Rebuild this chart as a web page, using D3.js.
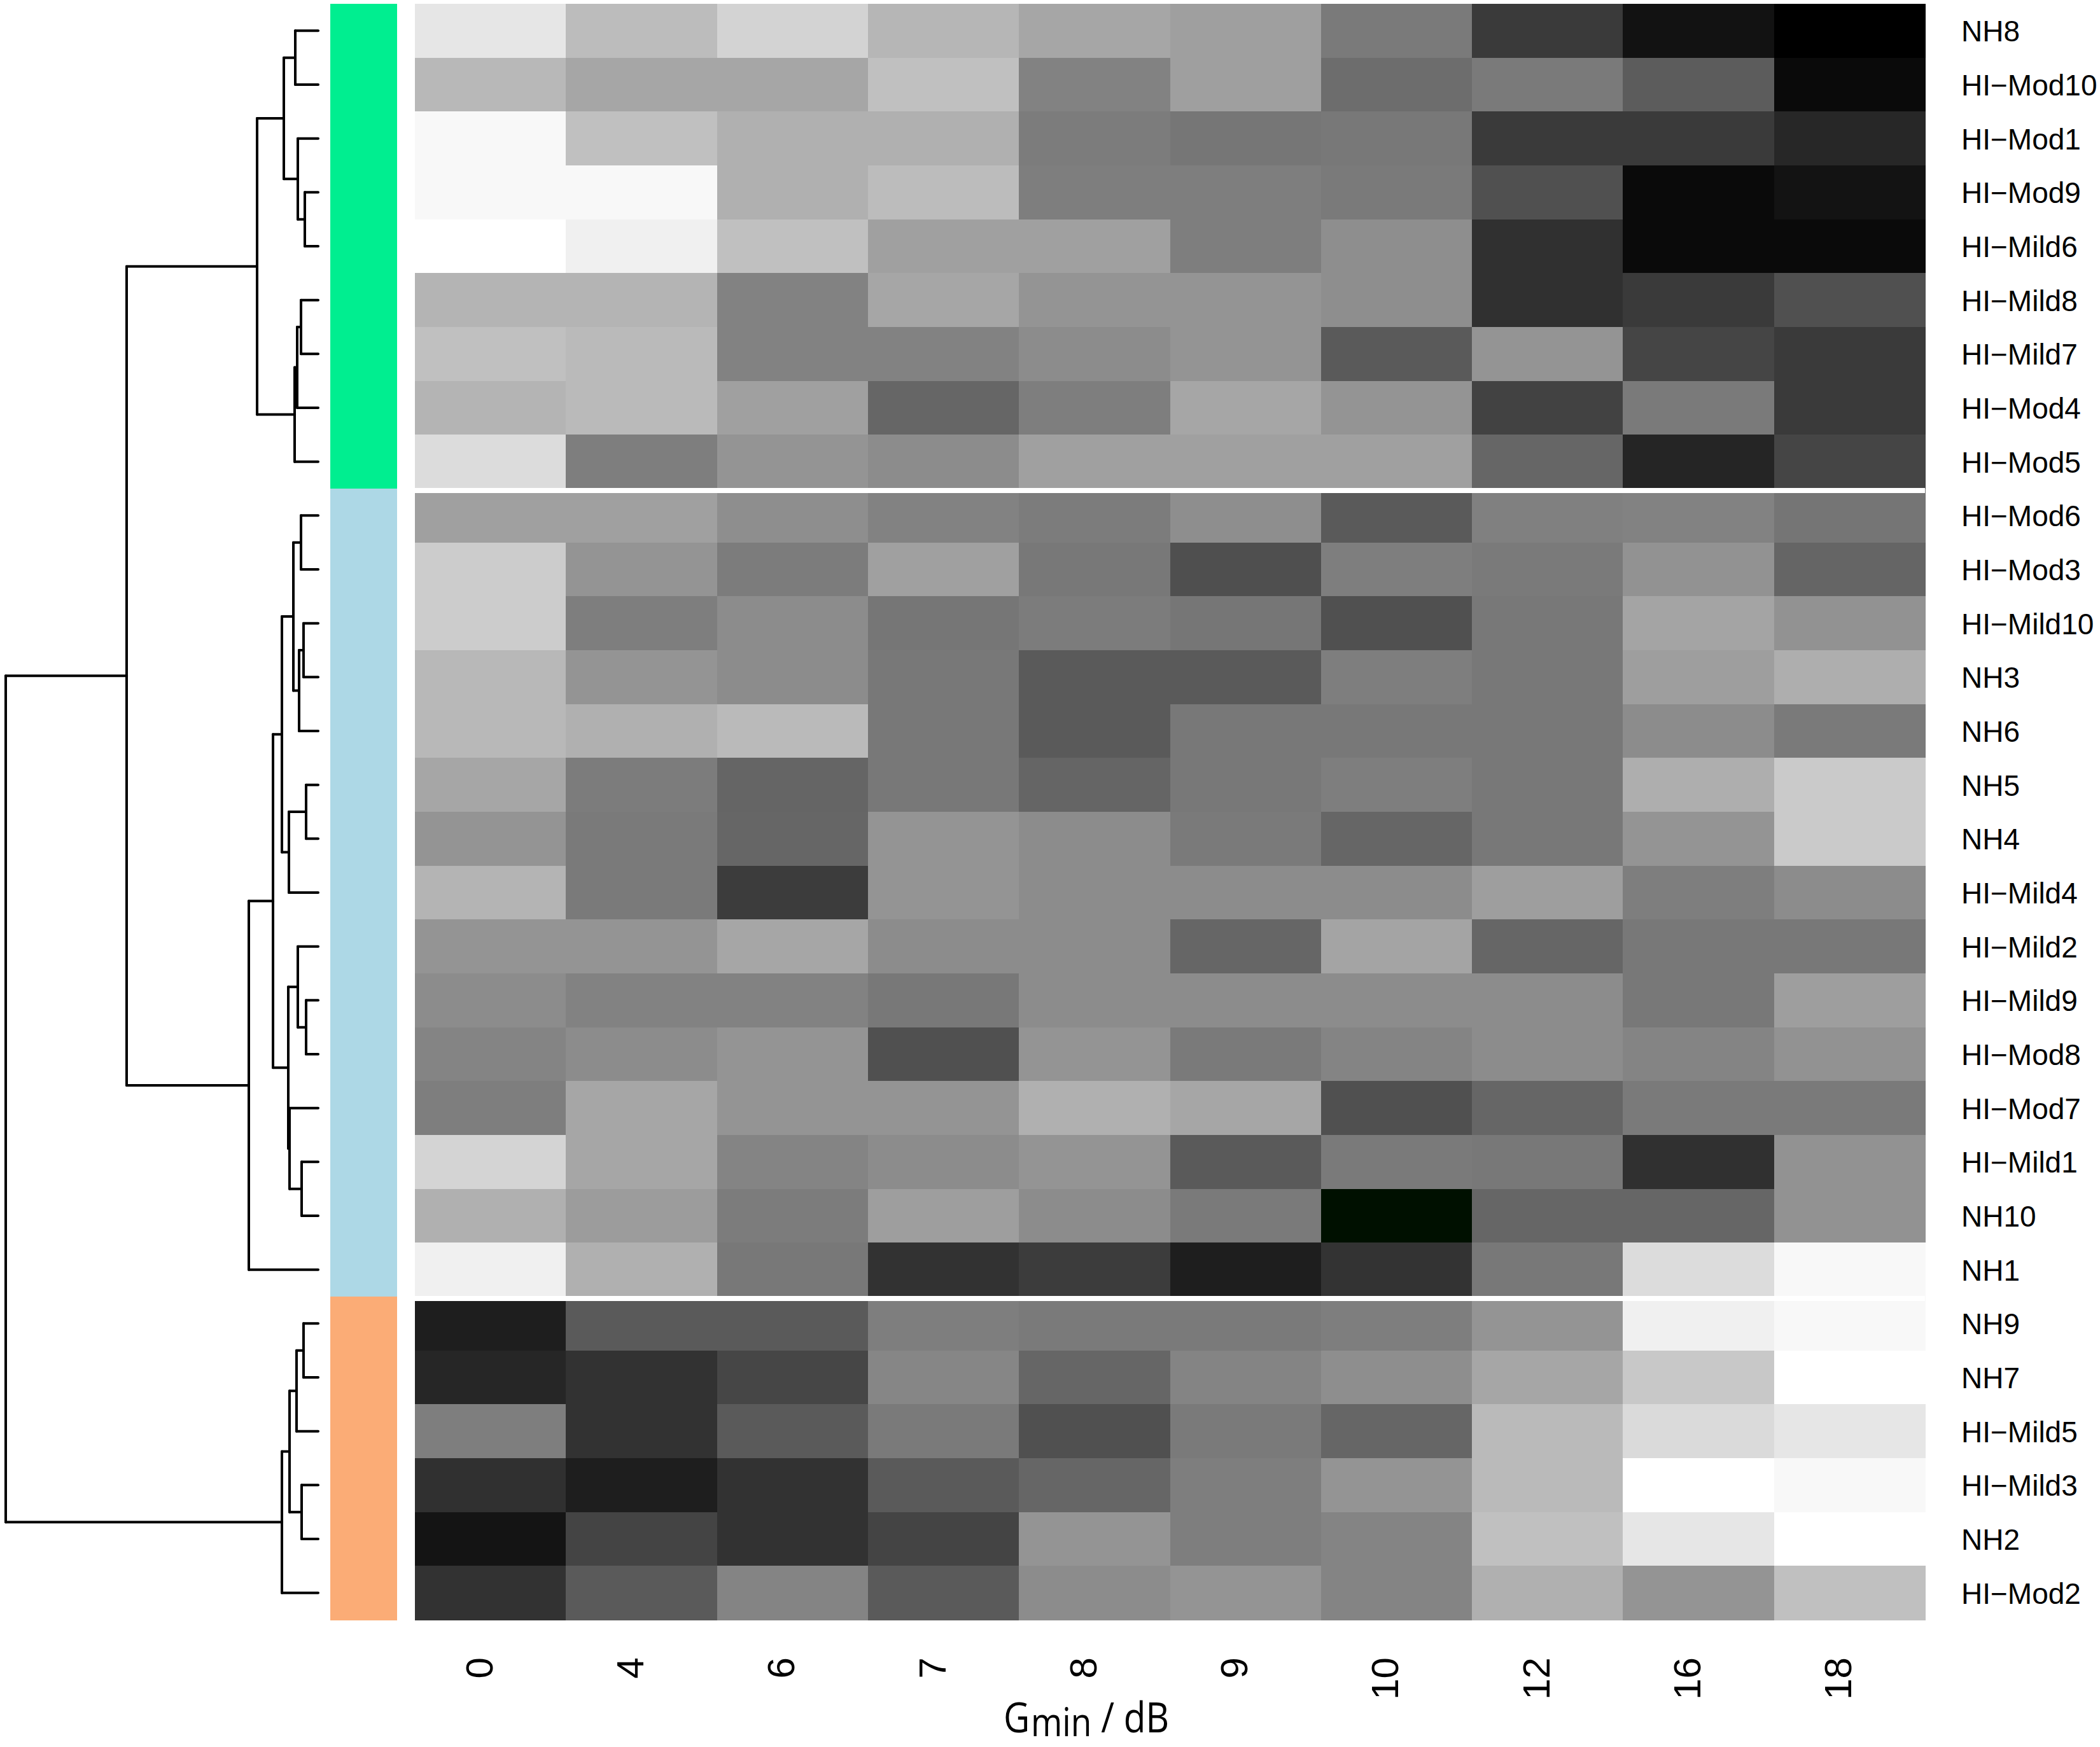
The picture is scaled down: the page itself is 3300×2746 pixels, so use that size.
<!DOCTYPE html>
<html>
<head>
<meta charset="utf-8">
<script src="https://cdn.jsdelivr.net/npm/d3@7/dist/d3.min.js"></script>
<style>
  html, body { margin: 0; padding: 0; background: #ffffff; }
  svg { display: block; }
</style>
</head>
<body>
<script>
// ---------------- data ----------------
const rowLabels = ["NH8","HI-Mod10","HI-Mod1","HI-Mod9","HI-Mild6","HI-Mild8","HI-Mild7","HI-Mod4","HI-Mod5",
  "HI-Mod6","HI-Mod3","HI-Mild10","NH3","NH6","NH5","NH4","HI-Mild4","HI-Mild2","HI-Mild9","HI-Mod8","HI-Mod7","HI-Mild1","NH10","NH1",
  "NH9","NH7","HI-Mild5","HI-Mild3","NH2","HI-Mod2"];
const colLabels = ["0","4","6","7","8","9","10","12","16","18"];
const axisTitleMain = "G";
const axisTitleSub = "min";
const axisTitleUnit = " / dB";

// cluster membership of each row (1,2,3) and cluster colours
const rowCluster = [1,1,1,1,1,1,1,1,1, 2,2,2,2,2,2,2,2,2,2,2,2,2,2,2, 3,3,3,3,3,3];
const clusterColors = {1: "#00EE90", 2: "#ADD8E6", 3: "#FBAC76"};
const clusterBreakRows = ["HI-Mod6", "NH9"];

// grey level (0 = black, 255 = white) of every cell, rows in display order
const cellGrey = [
  [0xE6,0xBC,0xD3,0xB6,0xA6,0x9F,0x7A,0x3A,0x12,0x00],
  [0xB8,0xA6,0xA6,0xC0,0x82,0x9F,0x6D,0x7A,0x5C,0x0A],
  [0xF8,0xC0,0xB0,0xB0,0x7C,0x76,0x78,0x3A,0x3A,0x27],
  [0xF8,0xF8,0xB0,0xBC,0x7E,0x7E,0x7A,0x50,0x0A,0x13],
  [0xFF,0xF0,0xC0,0xA0,0xA0,0x7E,0x8E,0x30,0x0A,0x0A],
  [0xB4,0xB4,0x82,0xA6,0x94,0x94,0x8E,0x30,0x3A,0x50],
  [0xC0,0xBA,0x82,0x82,0x8C,0x94,0x5A,0x94,0x45,0x3A],
  [0xB4,0xBA,0xA0,0x66,0x7E,0xA6,0x94,0x42,0x7A,0x3A],
  [0xDC,0x7E,0x94,0x8C,0xA0,0xA0,0xA0,0x66,0x25,0x45],
  [0xA0,0xA0,0x8E,0x82,0x7C,0x8E,0x5A,0x80,0x82,0x75],
  [0xCC,0x94,0x7C,0xA0,0x78,0x4F,0x7E,0x7A,0x92,0x65],
  [0xCC,0x7E,0x8C,0x76,0x7C,0x76,0x50,0x78,0xA4,0x92],
  [0xB8,0x94,0x8C,0x78,0x5A,0x5A,0x7E,0x78,0x9E,0xAE],
  [0xB8,0xB0,0xBA,0x78,0x5A,0x78,0x78,0x78,0x8C,0x7A],
  [0xA6,0x7C,0x65,0x78,0x65,0x78,0x7E,0x78,0xAE,0xCA],
  [0x94,0x7A,0x66,0x94,0x8C,0x7A,0x66,0x78,0x94,0xCA],
  [0xB4,0x7A,0x3C,0x94,0x8C,0x8C,0x8C,0x9E,0x7E,0x8C],
  [0x94,0x94,0xA6,0x8C,0x8C,0x66,0xA4,0x66,0x78,0x78],
  [0x8C,0x82,0x82,0x78,0x8C,0x8C,0x8C,0x8C,0x78,0x9E],
  [0x84,0x8C,0x94,0x50,0x94,0x7A,0x84,0x8C,0x84,0x92],
  [0x7E,0xA6,0x94,0x94,0xB0,0xA6,0x50,0x66,0x7A,0x7A],
  [0xD4,0xA6,0x84,0x8C,0x94,0x5A,0x7A,0x78,0x30,0x92],
  [0xB0,0x9C,0x7C,0x9E,0x8C,0x7A,0x08,0x66,0x66,0x92],
  [0xF0,0xB0,0x78,0x32,0x3C,0x1E,0x33,0x78,0xDC,0xF8],
  [0x1E,0x5A,0x5A,0x7E,0x7A,0x7A,0x7E,0x94,0xF0,0xF8],
  [0x26,0x32,0x46,0x86,0x66,0x84,0x8E,0xA6,0xC8,0xFF],
  [0x7E,0x32,0x5A,0x7A,0x50,0x7A,0x66,0xBA,0xDA,0xE6],
  [0x30,0x1E,0x32,0x5A,0x66,0x7E,0x94,0xBA,0xFF,0xF8],
  [0x14,0x44,0x32,0x44,0x94,0x7E,0x84,0xC0,0xE6,0xFF],
  [0x32,0x5A,0x84,0x5A,0x8C,0x94,0x84,0xB0,0x94,0xC0]
];
// cells drawn in a colour outside the grey ramp
const accentCells = [{row: "NH10", col: "10", color: "#001000"}];

// hierarchical clustering merges: [node id, child 1, child 2, merge height]
const merges = [
  ["A",  "NH8", "HI-Mod10", 3.6],
  ["B",  "HI-Mod9", "HI-Mild6", 2.1],
  ["C",  "HI-Mod1", "B", 3.2],
  ["D",  "A", "C", 5.4],
  ["E",  "HI-Mild8", "HI-Mild7", 2.7],
  ["F",  "E", "HI-Mod4", 3.3],
  ["G",  "F", "HI-Mod5", 3.7],
  ["GRN","D", "G", 9.6],
  ["b1", "HI-Mod6", "HI-Mod3", 2.7],
  ["b2", "HI-Mild10", "NH3", 2.3],
  ["b3", "b2", "NH6", 3.0],
  ["H1", "b1", "b3", 3.9],
  ["b4", "NH5", "NH4", 1.9],
  ["H2", "b4", "HI-Mild4", 4.6],
  ["H3", "H1", "H2", 5.7],
  ["b5", "HI-Mild9", "HI-Mod8", 1.9],
  ["b6", "HI-Mild2", "b5", 3.2],
  ["b7", "HI-Mild1", "NH10", 2.6],
  ["b8", "HI-Mod7", "b7", 4.5],
  ["H5", "b6", "b8", 4.7],
  ["H4", "H3", "H5", 7.1],
  ["BLU","H4", "NH1", 10.9],
  ["GB", "GRN", "BLU", 30.1],
  ["o1", "NH9", "NH7", 2.3],
  ["o2", "o1", "HI-Mild5", 3.4],
  ["o3", "HI-Mild3", "NH2", 2.6],
  ["o4", "o2", "o3", 4.5],
  ["ORG","o4", "HI-Mod2", 5.7],
  ["ROOT","GB", "ORG", 49.1]
];

// ---------------- layout ----------------
const W = 3300, H = 2746;
const heat = {x0: 652, x1: 3025, y0: 6, y1: 2546};
const bar = {x0: 519, x1: 624};
const dendro = {xLeaf: 500, xRoot: 9};

const svg = d3.select("body").append("svg")
  .attr("width", W).attr("height", H)
  .attr("viewBox", `0 0 ${W} ${H}`);
svg.append("rect").attr("width", W).attr("height", H).attr("fill", "#ffffff");

const y = d3.scaleBand().domain(rowLabels).range([heat.y0, heat.y1]).paddingInner(0).paddingOuter(0);
const x = d3.scaleBand().domain(colLabels).range([heat.x0, heat.x1]).paddingInner(0).paddingOuter(0);
const grey = d3.scaleLinear().domain([0, 255]).range(["#000000", "#ffffff"]);
const hScale = d3.scaleLinear().domain([0, d3.max(merges, d => d[3])]).range([dendro.xLeaf, dendro.xRoot]);

// heatmap cells
const cells = [];
rowLabels.forEach((r, i) => colLabels.forEach((c, j) => {
  const acc = accentCells.find(a => a.row === r && a.col === c);
  cells.push({r, c, fill: acc ? acc.color : grey(cellGrey[i][j])});
}));
svg.append("g").attr("shape-rendering", "crispEdges")
  .selectAll("rect").data(cells).join("rect")
  .attr("x", d => x(d.c)).attr("y", d => y(d.r))
  .attr("width", x.bandwidth() + 0.5).attr("height", y.bandwidth() + 0.5)
  .attr("fill", d => d.fill);

// white separators between clusters
svg.append("g").selectAll("rect").data(clusterBreakRows).join("rect")
  .attr("x", heat.x0).attr("width", heat.x1 - heat.x0)
  .attr("y", d => y(d) - 1).attr("height", 8)
  .attr("fill", "#ffffff");

// cluster colour bar
svg.append("g").attr("shape-rendering", "crispEdges")
  .selectAll("rect").data(rowLabels).join("rect")
  .attr("x", bar.x0).attr("width", bar.x1 - bar.x0)
  .attr("y", d => y(d)).attr("height", y.bandwidth() + 0.5)
  .attr("fill", (d, i) => clusterColors[rowCluster[i]]);

// row labels
svg.append("g").selectAll("text").data(rowLabels).join("text")
  .attr("x", 3082).attr("y", d => y(d) + y.bandwidth() / 2 + 17)
  .attr("font-family", "'Liberation Sans', Arial, sans-serif")
  .attr("font-size", 46).attr("fill", "#000")
  .text(d => d.replace("-", "\u2212"));

// column labels (rotated)
svg.append("g").selectAll("text").data(colLabels).join("text")
  .attr("transform", d => `translate(${x(d) + x.bandwidth() / 2 + 3},2605) rotate(-90)`)
  .attr("text-anchor", "end")
  .attr("font-family", "'Liberation Sans', Arial, sans-serif")
  .attr("font-size", 60).attr("fill", "#000")
  .text(d => d);

// axis title
const title = svg.append("text")
  .attr("transform", "translate(1577,2723) scale(0.86,1)")
  .attr("font-family", "'Open Sans', 'Noto Sans', sans-serif")
  .attr("fill", "#000");
title.append("tspan").attr("font-size", 66).text(axisTitleMain);
title.append("tspan").attr("font-size", 62).attr("dy", 6).attr("dx", 2).text(axisTitleSub);
title.append("tspan").attr("font-size", 66).attr("dy", -6).text(axisTitleUnit);

// dendrogram
const nodes = {};
rowLabels.forEach(r => { nodes[r] = {x: dendro.xLeaf, y: y(r) + y.bandwidth() / 2}; });
const segs = [];
merges.forEach(([id, a, b, h]) => {
  const na = nodes[a], nb = nodes[b];
  const nx = hScale(h);
  segs.push([na.x, na.y, nx, na.y]);
  segs.push([nb.x, nb.y, nx, nb.y]);
  segs.push([nx, na.y, nx, nb.y]);
  nodes[id] = {x: nx, y: (na.y + nb.y) / 2};
});
svg.append("g")
  .attr("stroke", "#000").attr("stroke-width", 4).attr("stroke-linecap", "round").attr("fill", "none")
  .selectAll("line").data(segs).join("line")
  .attr("x1", d => d[0]).attr("y1", d => d[1])
  .attr("x2", d => d[2]).attr("y2", d => d[3]);
</script>
</body>
</html>
